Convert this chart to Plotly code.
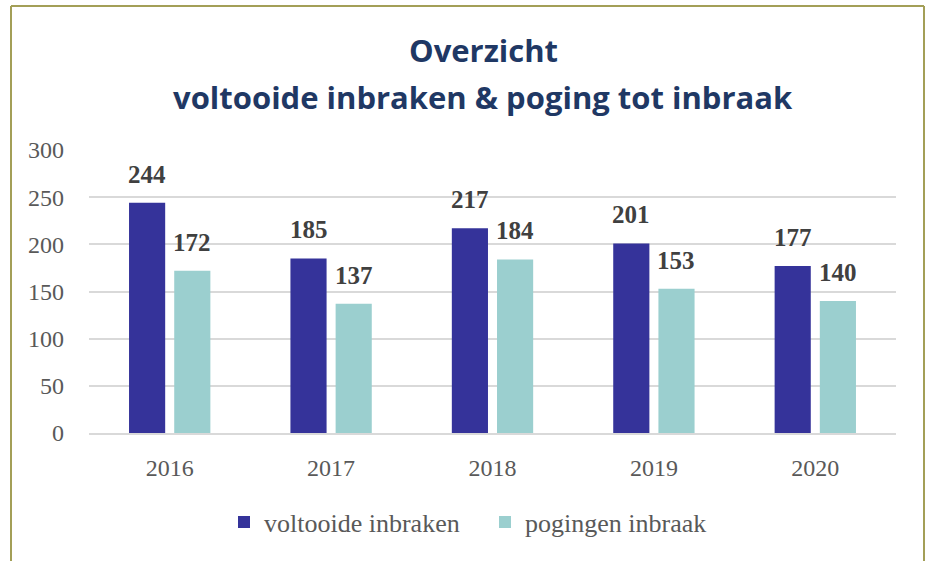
import plotly.graph_objects as go

years = ["2016", "2017", "2018", "2019", "2020"]
voltooid = [244, 185, 217, 201, 177]
pogingen = [172, 137, 184, 153, 140]
series_names = ["voltooide inbraken", "pogingen inbraak"]
colors = ["#35339A", "#9BCFCF"]
title_lines = ["Overzicht", "voltooide inbraken & poging tot inbraak"]
y_ticks = [0, 50, 100, 150, 200, 250, 300]

serif = "Liberation Serif, DejaVu Serif, serif"

fig = go.Figure()
for name, vals, col in zip(series_names, [voltooid, pogingen], colors):
    fig.add_trace(go.Bar(x=years, y=vals, name=name, marker=dict(color=col, line=dict(width=0))))

W0, W1 = 89, 896
T, B = 150, 433
def px2x(p):
    return (p - W0) / (W1 - W0)
def py2y(p):
    return (B - p) / (B - T)

annotations = []
for i, vals in enumerate([voltooid, pogingen]):
    shift = -22.5 if i == 0 else 22.5
    for idx, v in enumerate(vals):
        annotations.append(dict(x=idx, y=v, xref="x", yref="y", text=f"<b>{v}</b>",
                                showarrow=False, yanchor="bottom", xshift=shift, yshift=13,
                                font=dict(family=serif, size=25, color="#404040")))

for line, ypix in zip(title_lines, [50, 97]):
    annotations.append(dict(x=px2x(483), y=py2y(ypix), xref="paper", yref="paper", text=f"<b>{line}</b>",
                            showarrow=False, xanchor="center", yanchor="middle",
                            font=dict(family="Open Sans, sans-serif", size=31, color="#1F3864")))

border = "#A39F57"
shapes = [
    dict(type="line", xref="paper", yref="paper", x0=px2x(11), x1=px2x(11), y0=py2y(600), y1=py2y(6), line=dict(color=border, width=2)),
    dict(type="line", xref="paper", yref="paper", x0=px2x(11), x1=px2x(924), y0=py2y(6), y1=py2y(6), line=dict(color=border, width=2)),
    dict(type="line", xref="paper", yref="paper", x0=px2x(924), x1=px2x(924), y0=py2y(600), y1=py2y(6), line=dict(color=border, width=2)),
]

fig.update_layout(
    width=926, height=561,
    margin=dict(l=W0, r=926 - W1, t=T, b=561 - B, autoexpand=False),
    paper_bgcolor="white", plot_bgcolor="white",
    barmode="group", bargap=0.44, bargroupgap=0.2,
    yaxis=dict(range=[0, 300], tickvals=y_ticks, showgrid=True, gridcolor="#D9D9D9", gridwidth=2,
               zeroline=False, showline=False, ticks="",
               tickfont=dict(family=serif, size=24, color="#595959"), ticklabelstandoff=24),
    xaxis=dict(type="category", range=[-0.5, len(years) - 0.5], autorange=False,
               showline=True, linecolor="#D9D9D9", linewidth=2, ticks="",
               tickfont=dict(family=serif, size=24, color="#595959"), ticklabelstandoff=12),
    legend=dict(orientation="h", x=px2x(224), xanchor="left", y=py2y(522), yanchor="middle",
                font=dict(family=serif, size=26, color="#595959"), entrywidth=216, traceorder="normal"),
    annotations=annotations,
    shapes=shapes,
    showlegend=True,
)

fig.write_html("out.html", post_script="document.body.style.margin='0';",
               config={"displayModeBar": False})
